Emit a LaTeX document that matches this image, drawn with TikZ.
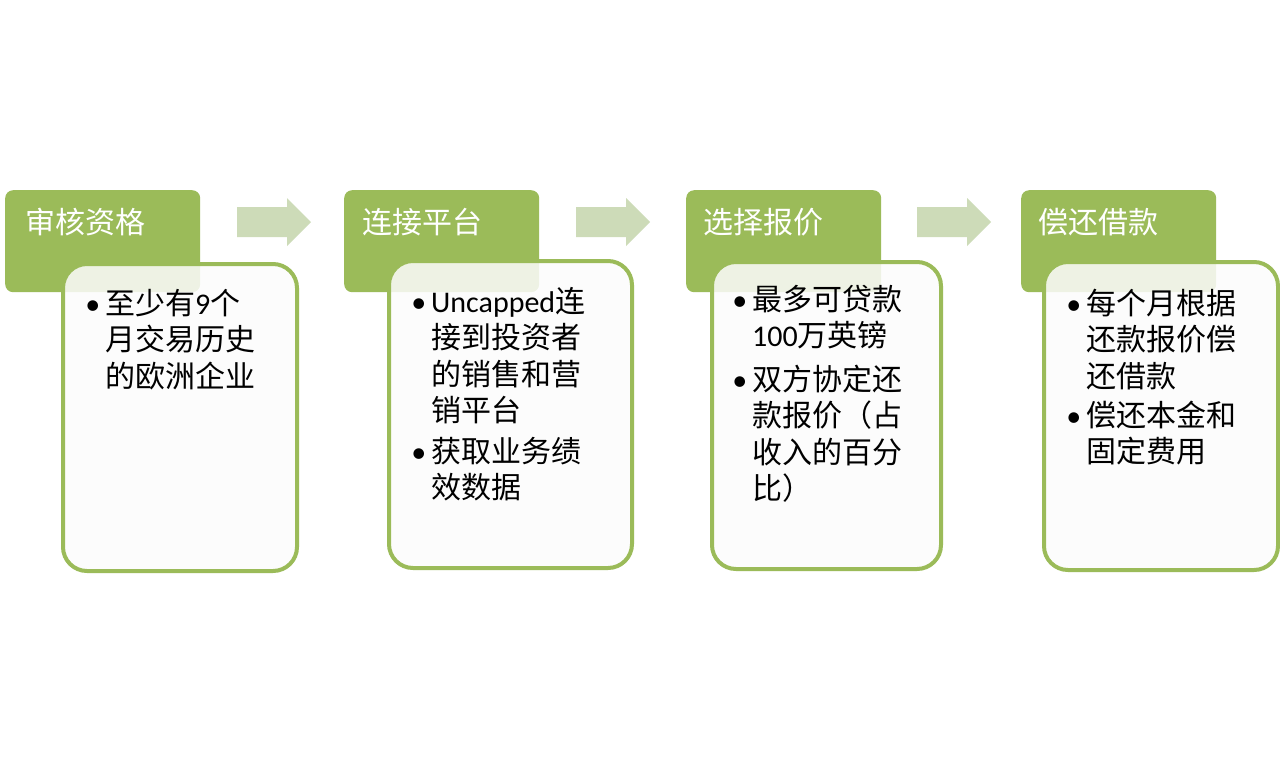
\documentclass[tikz,border=0pt]{standalone}
\usepackage{fontspec}
\setmainfont{Noto Sans CJK SC}
\newfontfamily\lat{Carlito}
\usetikzlibrary{positioning}
\definecolor{stepgreen}{HTML}{9BBB59}
\definecolor{flowgreen}{HTML}{CDDBB8}
\newcommand{\bul}{\llap{{\lat •}\hspace{5pt}}}

\begin{document}
\begin{tikzpicture}[x=1pt,y=-1pt,
head node/.style={fill=stepgreen,rounded corners=8pt,anchor=north west,minimum width=195pt,minimum height=102pt,inner sep=0pt},
body node/.style={draw=stepgreen,line width=4pt,fill=white!99!black,fill opacity=0.86,rounded corners=24pt,anchor=north west,inner sep=0pt},
head text/.style={anchor=base west,text=white,inner sep=0pt,font=\fontsize{30}{36}\selectfont},
item text/.style={anchor=base west,text width=210pt,align=left,inner sep=0pt,font=\fontsize{30}{36.5}\selectfont}]

\useasboundingbox (0,0) rectangle (1280,756);

\node[head node] (h1) at (5,190) {};
\node[head node] (h2) at (344,190) {};
\node[head node] (h3) at (686,190) {};
\node[head node] (h4) at (1021,190) {};

\node[body node,minimum width=234pt,minimum height=307pt] (b1) at (61,262) {};
\node[body node,minimum width=243pt,minimum height=307pt] (b2) at (387,259) {};
\node[body node,minimum width=229pt,minimum height=307pt] (b3) at (710,260) {};
\node[body node,minimum width=234pt,minimum height=308pt] (b4) at (1042,260) {};

\node[head text] (t1) at (25,233) {审核资格};
\node[head text] (t2) at (362,233) {连接平台};
\node[head text] (t3) at (703,233) {选择报价};
\node[head text] (t4) at (1038,233) {偿还借款};

\node[item text] (i1) at (105,314) {\bul 至少有{\lat 9}个\\月交易历史\\的欧洲企业};
\node[item text] (i2) at (431,312) {\bul{\lat Uncapped}连\\接到投资者\\的销售和营\\销平台};
\node[item text] (i3) at (431,462) {\bul 获取业务绩\\效数据};
\node[item text] (i4) at (752,310) {\bul 最多可贷款\\{\lat 100}万英镑};
\node[item text] (i5) at (752,390) {\bul 双方协定还\\款报价（占\\收入的百分\\比）};
\node[item text] (i6) at (1086,314) {\bul 每个月根据\\还款报价偿\\还借款};
\node[item text] (i7) at (1086,426) {\bul 偿还本金和\\固定费用};

\foreach \x in {237,576,917}
  \fill[flowgreen] (\x,207) -- ++(50,0) -- ++(0,-9) -- ++(24,24) -- ++(-24,24) -- ++(0,-9) -- ++(-50,0) -- cycle;
\end{tikzpicture}
\end{document}
